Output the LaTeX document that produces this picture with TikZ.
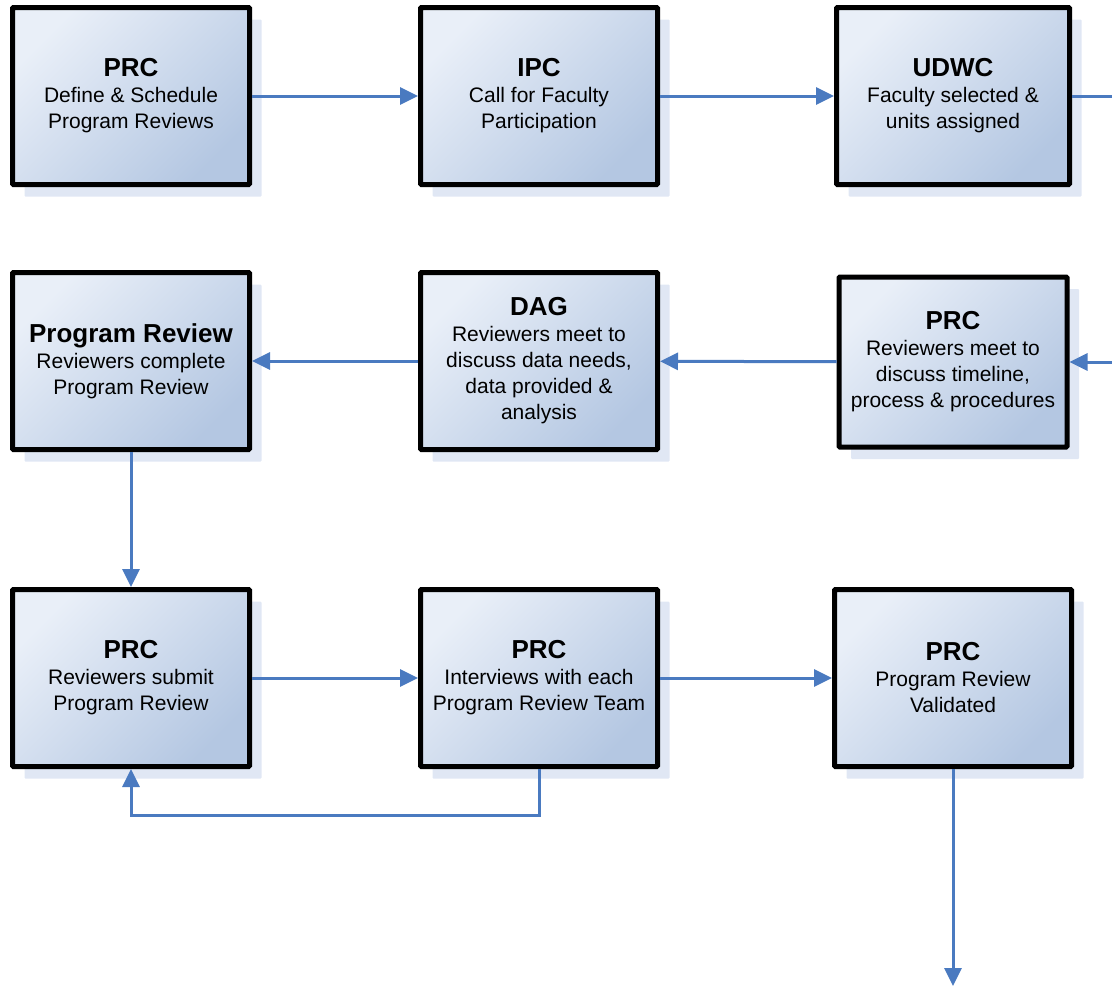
\documentclass[tikz,border=0pt]{standalone}
\usepackage{fontspec}
\setmainfont{Liberation Sans}
\usetikzlibrary{arrows.meta,shadows}
\definecolor{flowblue}{RGB}{74,122,192}
\definecolor{boxlight}{RGB}{233,239,248}
\definecolor{boxdark}{RGB}{180,199,226}
\definecolor{shadowblue}{RGB}{224,231,244}
\newcommand\boxtitle[1]{{\fontsize{26}{28}\selectfont\bfseries #1}}
\begin{document}
\begin{tikzpicture}[x=1pt,y=-1pt,
  stepbox/.style={draw=black,line width=5pt,rounded corners=1pt,
    minimum width=237pt,minimum height=177pt,
    top color=boxlight,bottom color=boxdark,shading angle=45,
    align=center,font=\fontsize{21}{26}\selectfont,
    drop shadow={shadow xshift=12pt,shadow yshift=-12pt,fill=shadowblue,opacity=1}},
  link/.style={draw=flowblue,line width=3pt},
  flow/.style={link,-{Triangle[length=18pt,width=17pt]}}]
\useasboundingbox (0,0) rectangle (1112,988);
\node[stepbox] (define) at (131,96) {\boxtitle{PRC}\\Define \& Schedule\\Program Reviews};
\node[stepbox] (call) at (539,96) {\boxtitle{IPC}\\Call for Faculty\\Participation};
\node[stepbox,minimum width=233pt] (select) at (953,96) {\boxtitle{UDWC}\\Faculty selected \&\\units assigned};
\node[stepbox,minimum width=228pt,minimum height=170pt] (meet) at (953,362) {\boxtitle{PRC}\\Reviewers meet to\\discuss timeline,\\process \& procedures};
\node[stepbox] (data) at (539,361) {\boxtitle{DAG}\\Reviewers meet to\\discuss data needs,\\data provided \&\\analysis};
\node[stepbox] (review) at (131,361) {\boxtitle{Program Review}\\Reviewers complete\\Program Review};
\node[stepbox] (submit) at (131,678) {\boxtitle{PRC}\\Reviewers submit\\Program Review};
\node[stepbox] (interview) at (539,678) {\boxtitle{PRC}\\Interviews with each\\Program Review Team};
\node[stepbox] (valid) at (953,678) {\boxtitle{PRC}\\Program Review\\Validated};
\coordinate (offright) at (1112,96);
\coordinate (inright) at (1112,362);
\coordinate (finish) at (953,986);
\draw[flow] (define) -- (call);
\draw[flow] (call) -- (select);
\draw[link] (select) -- (offright);
\draw[flow] (inright) -- (meet);
\draw[flow] (meet) -- (data);
\draw[flow] (data) -- (review);
\draw[flow] (review) -- (submit);
\draw[flow] (submit) -- (interview);
\draw[flow] (interview) -- (valid);
\draw[flow] (interview.south) -- ++(0,46) -| (submit.south);
\draw[flow] (valid) -- (finish);
\end{tikzpicture}
\end{document}
